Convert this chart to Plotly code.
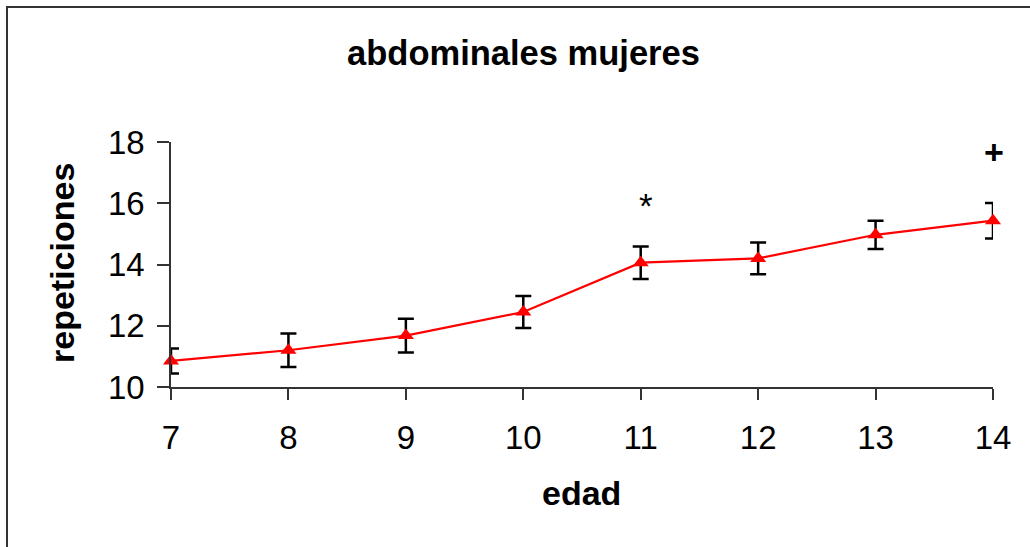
import plotly.graph_objects as go

# Data
edad = [7, 8, 9, 10, 11, 12, 13, 14]
repeticiones = [10.85, 11.2, 11.68, 12.45, 14.06, 14.2, 14.97, 15.43]
error = [0.41, 0.55, 0.55, 0.52, 0.53, 0.52, 0.46, 0.58]
marcas = ["", "", "", "", "*", "", "", "+"]
marca_y = [None, None, None, None, 16.05, None, None, 17.65]

y_ticks = [10, 12, 14, 16, 18]

W, H = 1030, 547
L, R, T, B = 171, 37, 142, 160
pw, ph = W - L - R, H - T - B

def px_x(px):
    return (px - L) / pw

def px_y(py):
    return (H - B - py) / ph

FONT = "Liberation Sans, Arial, sans-serif"

fig = go.Figure()
fig.add_trace(go.Scatter(
    x=edad, y=repeticiones,
    mode="lines+markers",
    line=dict(color="#ff0000", width=2.2),
    marker=dict(symbol="triangle-up", size=14, color="#ff0000"),
    error_y=dict(type="data", array=error, visible=True, color="#000000",
                 thickness=2.5, width=8),
    showlegend=False,
    cliponaxis=False,
))

annotations = []
for xv, m, yv in zip(edad, marcas, marca_y):
    if m:
        annotations.append(dict(
            x=xv, y=yv, xref="x", yref="y",
            text=m if m == "*" else "<b>" + m + "</b>", showarrow=False,
            font=dict(family=FONT, size=35 if m == "*" else 34, color="#000"),
            xanchor="center", yanchor="middle",
            xshift=5 if m == "*" else 1,
            yshift=-4 if m == "*" else 1,
        ))

annotations.append(dict(
    x=px_x(581), y=px_y(493), xref="paper", yref="paper", text="<b>edad</b>",
    showarrow=False, font=dict(family=FONT, size=34, color="#000"),
    xanchor="center", yanchor="middle"))
annotations.append(dict(
    x=px_x(62), y=px_y(263), xref="paper", yref="paper", text="<b>repeticiones</b>",
    showarrow=False, textangle=-90, font=dict(family=FONT, size=34, color="#000"),
    xanchor="center", yanchor="middle"))

fig.update_layout(
    width=W, height=H,
    margin=dict(l=L, r=R, t=T, b=B),
    paper_bgcolor="white", plot_bgcolor="white",
    title=dict(text="<b>abdominales mujeres</b>", x=523.5 / W, y=1 - 53 / H,
               xanchor="center", yanchor="middle",
               font=dict(family=FONT, size=34.5, color="#000")),
    font=dict(family=FONT, color="#000"),
    annotations=annotations,
    shapes=[dict(type="rect", xref="paper", yref="paper",
                 x0=px_x(7), x1=px_x(1080), y0=px_y(7), y1=px_y(600),
                 line=dict(color="#333333", width=2), fillcolor="rgba(0,0,0,0)",
                 layer="above")],
)
fig.update_xaxes(
    range=[7, 14], tickvals=edad, ticktext=[str(v) for v in edad],
    showgrid=False, zeroline=False, showline=True, linecolor="#333333", linewidth=1.5,
    ticks="outside", ticklen=11, tickwidth=1.5, tickcolor="#333333",
    ticklabelstandoff=10,
    tickfont=dict(family=FONT, size=33, color="#000"),
)
fig.update_yaxes(
    range=[10, 18], tickvals=y_ticks,
    showgrid=False, zeroline=False, showline=True, linecolor="#333333", linewidth=1.5,
    ticks="outside", ticklen=12, tickwidth=1.5, tickcolor="#333333",
    ticklabelstandoff=6,
    tickfont=dict(family=FONT, size=33, color="#000"),
)

fig.write_html("out.html")
